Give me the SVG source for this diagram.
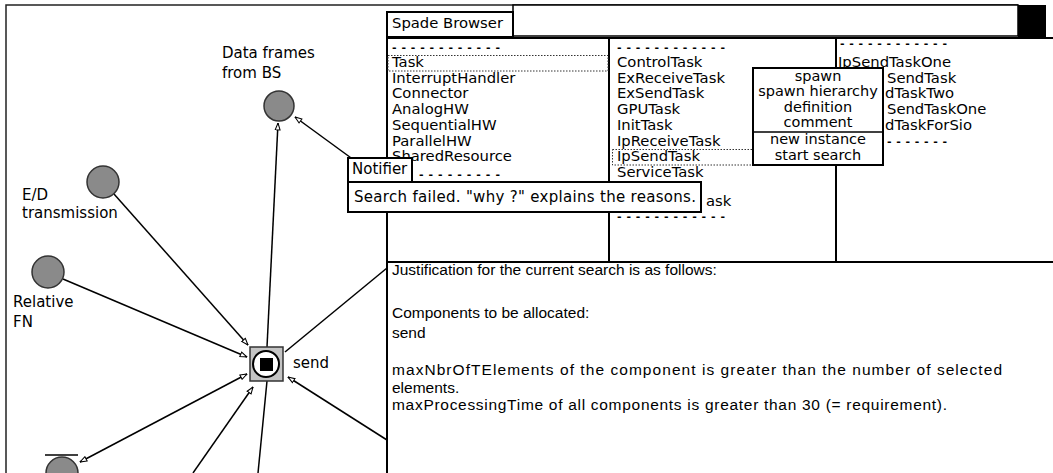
<svg xmlns="http://www.w3.org/2000/svg" width="1053" height="473" viewBox="0 0 1053 473">
<style>
 .lbl{font-family:"DejaVu Sans",sans-serif;font-size:15px;fill:#000}
 .lst{font-family:"DejaVu Sans",sans-serif;font-size:14.8px;fill:#000}
 .dsh{font-family:"DejaVu Sans",sans-serif;font-size:11px;font-weight:bold;fill:#000}
 .pop{font-family:"DejaVu Sans",sans-serif;font-size:14.5px;fill:#000;text-anchor:middle}
 .jt{font-family:"Liberation Sans",Arial,sans-serif;font-size:15.5px;fill:#000}
 .edge{stroke:#000;stroke-width:1.5;fill:none}
 .ball{fill:#8a8a8a;stroke:#333;stroke-width:1.5}
 .ln{stroke:#000;stroke-width:2;fill:none}
 .dot{fill:none;stroke:#333;stroke-width:1;stroke-dasharray:1.5 1.5}
</style>
<defs>
 <marker id="arr" viewBox="0 0 10 8" refX="9.5" refY="4" markerWidth="8" markerHeight="7" markerUnits="userSpaceOnUse" orient="auto-start-reverse">
  <path d="M1,1 L9.5,4 L1,7 z" fill="#fff" stroke="#000" stroke-width="1.3"/>
 </marker>
</defs>
<rect width="1053" height="473" fill="#fff"/>
<g id="graph-window">
 <path d="M6,473 V5 H1018" stroke="#222" stroke-width="1.5" fill="none"/>
</g>
<g id="connectors">
 <line class="edge" x1="267" y1="347" x2="278" y2="123" marker-end="url(#arr)"/>
 <line class="edge" x1="395" y1="190" x2="295" y2="117" marker-end="url(#arr)"/>
 <line class="edge" x1="114" y1="194" x2="248" y2="345" marker-end="url(#arr)"/>
 <line class="edge" x1="63" y1="279" x2="247" y2="357" marker-end="url(#arr)"/>
 <line class="edge" x1="285" y1="352" x2="387" y2="268"/>
 <line class="edge" x1="247" y1="374" x2="80" y2="462" marker-start="url(#arr)" marker-end="url(#arr)"/>
 <line class="edge" x1="193" y1="473" x2="253" y2="387" marker-end="url(#arr)"/>
 <line class="edge" x1="258" y1="473" x2="267" y2="381"/>
 <line class="edge" x1="387" y1="440" x2="288" y2="377" marker-end="url(#arr)"/>
</g>
<g id="node-data-frames">
 <circle class="ball" cx="279" cy="106" r="15"/>
 <text class="lbl" x="222" y="58">Data frames</text>
 <text class="lbl" x="222" y="78">from BS</text>
</g>
<g id="node-ed-transmission">
 <circle class="ball" cx="103" cy="182" r="16"/>
 <text class="lbl" x="22" y="200">E/D</text>
 <text class="lbl" x="22" y="218">transmission</text>
</g>
<g id="node-relative-fn">
 <circle class="ball" cx="48" cy="272" r="16"/>
 <text class="lbl" x="13" y="307">Relative</text>
 <text class="lbl" x="13" y="327">FN</text>
</g>
<g id="node-send">
 <rect x="250" y="347" width="33" height="34" fill="#c4c4c4" stroke="#333" stroke-width="1.5"/>
 <circle cx="266" cy="364" r="13" fill="#fff" stroke="#000" stroke-width="2"/>
 <rect x="260" y="358" width="13" height="13" fill="#000"/>
 <text class="lbl" x="293" y="368">send</text>
</g>
<g id="node-bottom">
 <line x1="45" y1="455" x2="78" y2="455" stroke="#000" stroke-width="1.5"/>
 <circle class="ball" cx="62" cy="473" r="16"/>
</g>
<g id="spade-browser">
 <rect x="513" y="5" width="505" height="31" fill="#fff" stroke="#000" stroke-width="1.5"/>
 <rect x="1018" y="5" width="28" height="33" fill="#000"/>
 <rect x="387" y="38" width="666" height="435" fill="#fff"/>
 <line class="ln" x1="387" y1="38" x2="1053" y2="38"/>
 <line class="ln" x1="387" y1="12" x2="387" y2="473"/>
 <line class="ln" x1="609" y1="38" x2="609" y2="262"/>
 <line class="ln" x1="836" y1="38" x2="836" y2="262"/>
 <line class="ln" x1="387" y1="262" x2="1053" y2="262"/>
 <rect x="387" y="12" width="126" height="25" fill="#fff" stroke="#000" stroke-width="2"/>
 <text class="lst" x="392" y="28">Spade Browser</text>
</g>
<g id="pane-categories">
 <text class="dsh" x="392" y="50.5" textLength="108" lengthAdjust="spacing">------------</text>
 <rect class="dot" x="388" y="55.5" width="220" height="15.5"/>
 <text class="lst" x="392" y="67">Task</text>
 <text class="lst" x="392" y="82.7">InterruptHandler</text>
 <text class="lst" x="392" y="98.4">Connector</text>
 <text class="lst" x="392" y="114">AnalogHW</text>
 <text class="lst" x="392" y="129.8">SequentialHW</text>
 <text class="lst" x="392" y="145.5">ParallelHW</text>
 <text class="lst" x="392" y="161">SharedResource</text>
 <text class="dsh" x="419" y="177.5" textLength="81" lengthAdjust="spacing">---------</text>
</g>
<g id="pane-tasks">
 <text class="dsh" x="617" y="50.5" textLength="108" lengthAdjust="spacing">------------</text>
 <text class="lst" x="617" y="67">ControlTask</text>
 <text class="lst" x="617" y="82.7">ExReceiveTask</text>
 <text class="lst" x="617" y="98.4">ExSendTask</text>
 <text class="lst" x="617" y="114">GPUTask</text>
 <text class="lst" x="617" y="129.8">InitTask</text>
 <text class="lst" x="617" y="145.5">IpReceiveTask</text>
 <rect class="dot" x="612.5" y="149.5" width="141" height="15.5"/>
 <text class="lst" x="617" y="161.2">IpSendTask</text>
 <text class="lst" x="617" y="176.9">ServiceTask</text>
 <text class="lst" x="706" y="206">ask</text>
 <text class="dsh" x="617" y="220" textLength="108" lengthAdjust="spacing">------------</text>
</g>
<g id="pane-instances">
 <text class="dsh" x="840" y="46.5" textLength="107" lengthAdjust="spacing">------------</text>
 <text class="lst" x="838" y="67">IpSendTaskOne</text>
 <text class="lst" x="887" y="82.7">SendTask</text>
 <text class="lst" x="885" y="98.4">dTaskTwo</text>
 <text class="lst" x="887" y="114">SendTaskOne</text>
 <text class="lst" x="885" y="129.8">dTaskForSio</text>
 <text class="dsh" x="887" y="144.5" textLength="60" lengthAdjust="spacing">-------</text>
</g>
<g id="pane-justification">
 <text class="jt" x="392" y="275">Justification for the current search is as follows:</text>
 <text class="jt" x="392" y="318">Components to be allocated:</text>
 <text class="jt" x="392" y="338">send</text>
 <text class="jt" x="392" y="375" textLength="610" lengthAdjust="spacing">maxNbrOfTElements of the component is greater than the number of selected</text>
 <text class="jt" x="392" y="393">elements.</text>
 <text class="jt" x="392" y="410" textLength="555" lengthAdjust="spacing">maxProcessingTime of all components is greater than 30 (= requirement).</text>
</g>
<g id="notifier">
 <rect x="348" y="182" width="353" height="30" fill="#fff" stroke="#000" stroke-width="2"/>
 <rect x="348" y="158" width="64" height="24" fill="#fff" stroke="#000" stroke-width="2"/>
 <text class="lbl" x="352" y="174">Notifier</text>
 <text class="lbl" x="354" y="202" textLength="342" lengthAdjust="spacing">Search failed. "why ?" explains the reasons.</text>
</g>
<g id="popup-menu">
 <rect x="753" y="68" width="130" height="97" fill="#fff" stroke="#000" stroke-width="2"/>
 <line x1="753" y1="132" x2="883" y2="132" stroke="#000" stroke-width="1.5"/>
 <text class="pop" x="818" y="80.5">spawn</text>
 <text class="pop" x="818" y="96">spawn hierarchy</text>
 <text class="pop" x="818" y="111.5">definition</text>
 <text class="pop" x="818" y="127">comment</text>
 <text class="pop" x="818" y="144">new instance</text>
 <text class="pop" x="818" y="159.5">start search</text>
</g>
</svg>
